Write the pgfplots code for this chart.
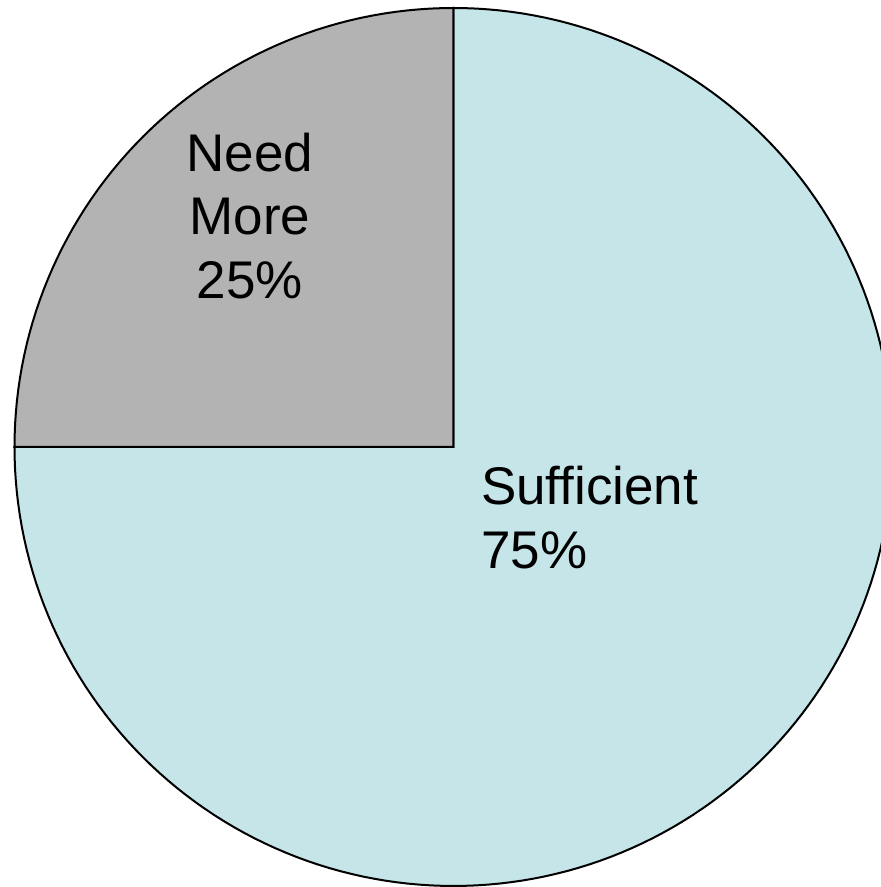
\documentclass[border=0pt]{standalone}
\usepackage{pgfplots}
\pgfplotsset{compat=1.18}
\usepackage{pgfplotstable}
\usepackage{fontspec}
\setmainfont{Liberation Sans}

\definecolor{pieblue}{HTML}{C5E5E9}
\definecolor{piegray}{HTML}{B3B3B3}

% share of each slice, in percent
\pgfplotstableread{
slice value
Sufficient 75
NeedMore 25
}\piedata

\begin{document}
\begin{tikzpicture}
\pgfplotstablegetelem{0}{value}\of\piedata \let\vsuff\pgfplotsretval
\pgfplotstablegetelem{1}{value}\of\piedata \let\vneed\pgfplotsretval
% slices go clockwise from 12 o'clock
\pgfmathsetmacro\aend{90-3.6*\vsuff}
\pgfmathsetmacro\bend{\aend-3.6*\vneed}
\begin{axis}[
  scale only axis,
  width=440.5bp, height=443.5bp,
  xmin=-1.0330, xmax=0.9738,
  ymin=-1.0023, ymax=1.0182,
  hide axis,
  clip=true,
]
\addplot[fill=pieblue, draw=black, line width=1bp, domain=\aend:90, samples=181, variable=\t]
  ({cos(\t)},{sin(\t)}) -- (axis cs:0,0) -- cycle;
\addplot[fill=piegray, draw=black, line width=1bp, domain=\bend:\aend, samples=61, variable=\t]
  ({cos(\t)},{sin(\t)}) -- (axis cs:0,0) -- cycle;

\begin{scope}[every node/.style={font=\fontsize{26.5bp}{31bp}\selectfont, inner sep=0pt}]
\node[anchor=base] at (axis cs:-0.4636,0.6264) {Need};
\node[anchor=base] at (axis cs:-0.4636,0.4829) {More};
\node[anchor=base] at (axis cs:-0.4636,0.3371) {25\%};
\node[anchor=base west] at (axis cs:0.0620,-0.1321) {Sufficient};
\node[anchor=base west] at (axis cs:0.0620,-0.2779) {75\%};
\end{scope}
\end{axis}
\pgfresetboundingbox
\path (current axis.south west) rectangle (current axis.north east);
\end{tikzpicture}
\end{document}
